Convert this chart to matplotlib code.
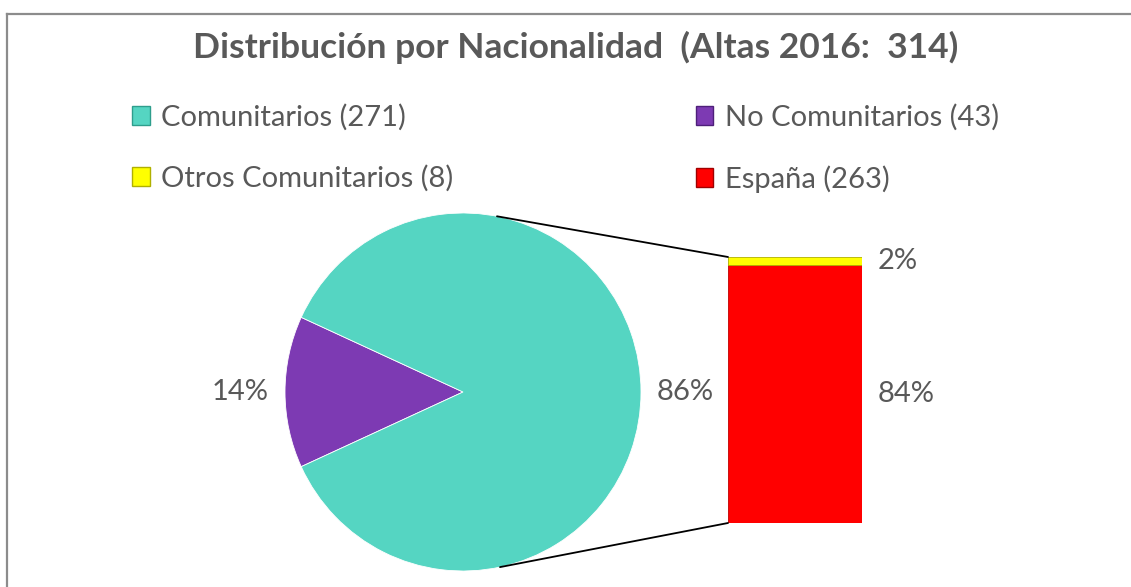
import matplotlib.pyplot as plt
from matplotlib.patches import ConnectionPatch, Patch
from matplotlib.lines import Line2D
import numpy as np

# datos
pie_labels = ['No Comunitarios', 'Comunitarios']
pie_values = [43, 271]
bar_labels = ['España', 'Otros Comunitarios']
bar_values = [263, 8]
bar_pct = ['84%', '2%']
titulo = 'Distribución por Nacionalidad  (Altas 2016:  314)'

c_turq = '#55D5C2'
c_morado = '#7D3AB3'
c_amarillo = '#FFFF00'
c_rojo = '#FF0000'
gris = '#595959'

W, H = 1131, 587
fig = plt.figure(figsize=(W / 100, H / 100), dpi=100)
plt.rcParams['font.family'] = ['Lato', 'DejaVu Sans']

def caja(x0, y0, x1, y1):
    # pixeles (desde arriba) -> coordenadas de figura
    return [x0 / W, 1 - y1 / H, (x1 - x0) / W, (y1 - y0) / H]

# borde del grafico (solo izquierda y arriba visibles)
fig.add_artist(Line2D([6.5 / W, 1], [1 - 13.5 / H] * 2, color='#8C8C8C', lw=1.6))
fig.add_artist(Line2D([6.5 / W] * 2, [0, 1 - 13.5 / H], color='#8C8C8C', lw=1.6))

fig.text(576 / W, 1 - 47 / H, titulo, ha='center', va='center',
         fontsize=25.5, fontweight='bold', color=gris)

# pastel
ax1 = fig.add_axes(caja(285, 213, 641, 571))
start = 180 - 360 * pie_values[0] / sum(pie_values) / 2
wedges, txt, pct = ax1.pie(pie_values, colors=[c_morado, c_turq], startangle=start,
                           autopct='%1.0f%%', pctdistance=1.25, radius=1,
                           wedgeprops=dict(edgecolor='white', linewidth=0.6),
                           textprops=dict(color=gris, fontsize=21))
ax1.set_xlim(-1, 1)
ax1.set_ylim(-1, 1)
ax1.set_aspect('auto')
ax1.axis('off')

# barra
ax2 = fig.add_axes(caja(728, 257, 862, 523))
abajo = 0
for v, c, p in zip(bar_values, [c_rojo, c_amarillo], bar_pct):
    ax2.bar(0, v, bottom=abajo, width=1, color=c,
            edgecolor='#B0B000' if c == c_amarillo else '#C00000', linewidth=0.6)
    ax2.text(0.62, abajo + v / 2, p, ha='left', va='center', fontsize=21, color=gris)
    abajo += v
ax2.set_xlim(-0.5, 0.5)
ax2.set_ylim(0, sum(bar_values))
ax2.axis('off')

# lineas de conexion
for ang, yb in [(79, sum(bar_values)), (-78, 0)]:
    a = np.deg2rad(ang)
    con = ConnectionPatch(xyA=(np.cos(a), np.sin(a)), coordsA=ax1.transData,
                          xyB=(-0.5, yb), coordsB=ax2.transData, color='black', lw=1.3)
    fig.add_artist(con)

# leyenda
handles = [Patch(facecolor=c_turq, edgecolor='#2E9E8C'),
           Patch(facecolor=c_amarillo, edgecolor='#B0B000'),
           Patch(facecolor=c_morado, edgecolor='#4E1F7A'),
           Patch(facecolor=c_rojo, edgecolor='#A00000')]
etiquetas = ['Comunitarios (271)', 'Otros Comunitarios (8)',
             'No Comunitarios (43)', 'España (263)']
leg = fig.legend(handles, etiquetas, ncol=2, loc='upper left',
                 bbox_to_anchor=(132 / W, 1 - 104 / H), frameon=False,
                 fontsize=21, labelcolor=gris, handlelength=0.6, handleheight=0.6,
                 handletextpad=0.4, columnspacing=8.3, labelspacing=1.17,
                 borderaxespad=0, borderpad=0)

fig.savefig('out.png', dpi=100)
